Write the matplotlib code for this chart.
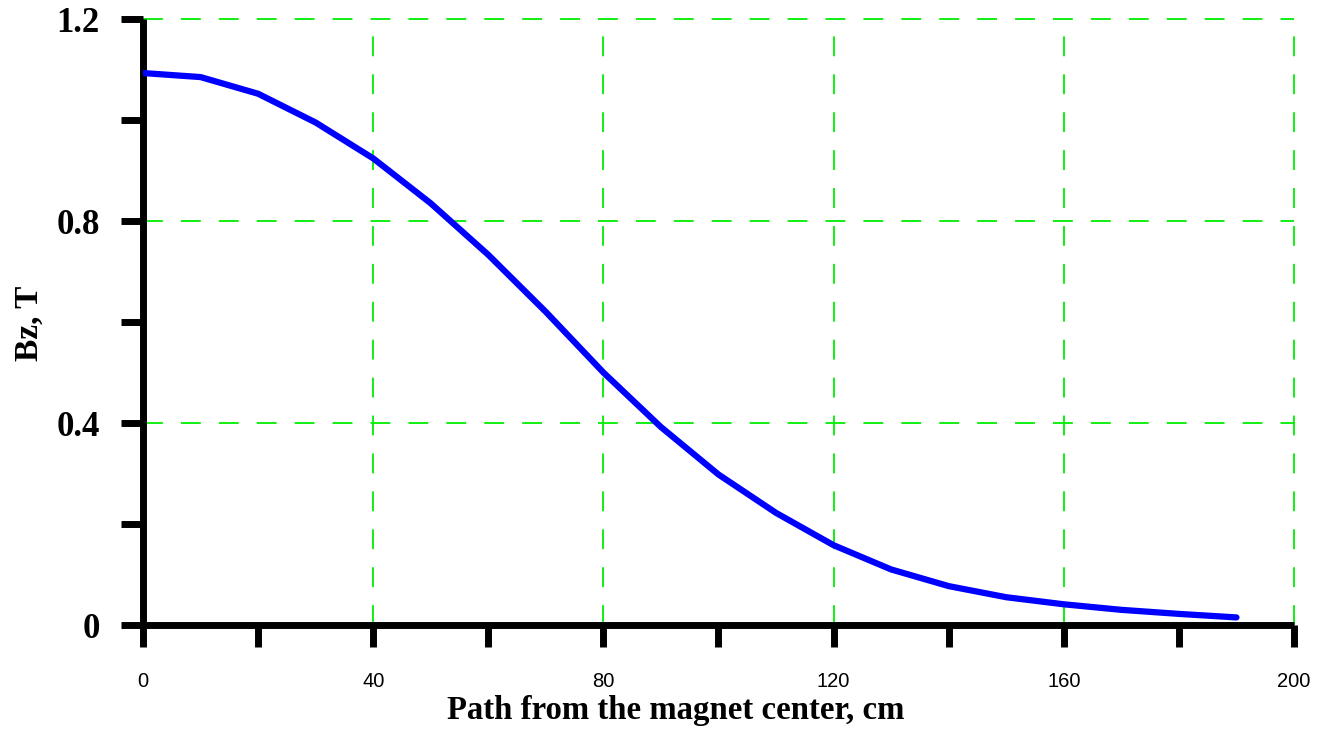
import matplotlib
matplotlib.use("Agg")
import matplotlib.pyplot as plt
from matplotlib.ticker import MultipleLocator

# Bz along the path from the magnet center
path_cm = [0, 10, 20, 30, 40, 50, 60, 70, 80, 90,
           100, 110, 120, 130, 140, 150, 160, 170, 180, 190]
bz_t = [1.093, 1.085, 1.052, 0.995, 0.924, 0.835, 0.733, 0.620, 0.500, 0.392,
        0.298, 0.222, 0.158, 0.110, 0.077, 0.055, 0.041, 0.030, 0.022, 0.015]

x_ticks = [0, 40, 80, 120, 160, 200]
y_ticks = [0, 0.4, 0.8, 1.2]
y_labels = ["0", "0.4", "0.8", "1.2"]

fig = plt.figure(figsize=(13.24, 7.35), dpi=100)
ax = fig.add_axes([143 / 1324, 110 / 735, 1151 / 1324, 606 / 735])

ax.plot(path_cm, bz_t, color="#0000ff", lw=4.5, solid_capstyle="round", zorder=3)

ax.set_xlim(0, 200)
ax.set_ylim(0, 1.2)

# grid (green dashes)
ax.set_xticks(x_ticks)
ax.set_yticks(y_ticks)
ax.set_yticklabels(y_labels)
ax.xaxis.set_minor_locator(MultipleLocator(20))
ax.yaxis.set_minor_locator(MultipleLocator(0.2))
ax.grid(True, which="major", color="#00ee00", lw=1.3, ls=(0, (11, 10)))
for gl in ax.get_xgridlines() + ax.get_ygridlines():
    gl.set_clip_on(False)

for side in ["top", "right"]:
    ax.spines[side].set_visible(False)
for side in ["left", "bottom"]:
    ax.spines[side].set_linewidth(5)
    ax.spines[side].set_capstyle("butt")

ax.tick_params(which="both", direction="out", length=16, width=5, color="black")
ax.tick_params(axis="y", which="major", pad=15)
ax.tick_params(axis="x", which="major", pad=18)
for lab in ax.get_yticklabels():
    lab.set_fontfamily("Liberation Serif")
    lab.set_fontweight("bold")
    lab.set_fontsize(25)
for lab in ax.get_xticklabels():
    lab.set_fontfamily("Liberation Sans")
    lab.set_fontsize(14.5)

fig.text(29 / 1324, 1 - 323 / 735, "Bz, T", rotation=90,
         fontfamily="Liberation Serif", fontweight="bold", fontsize=24,
         ha="center", va="center")
fig.text(676 / 1324, 1 - 711 / 735, "Path from the magnet center, cm",
         fontfamily="Liberation Serif", fontweight="bold", fontsize=23.6,
         ha="center", va="center")

fig.savefig("out.png", dpi=100, facecolor="white")
